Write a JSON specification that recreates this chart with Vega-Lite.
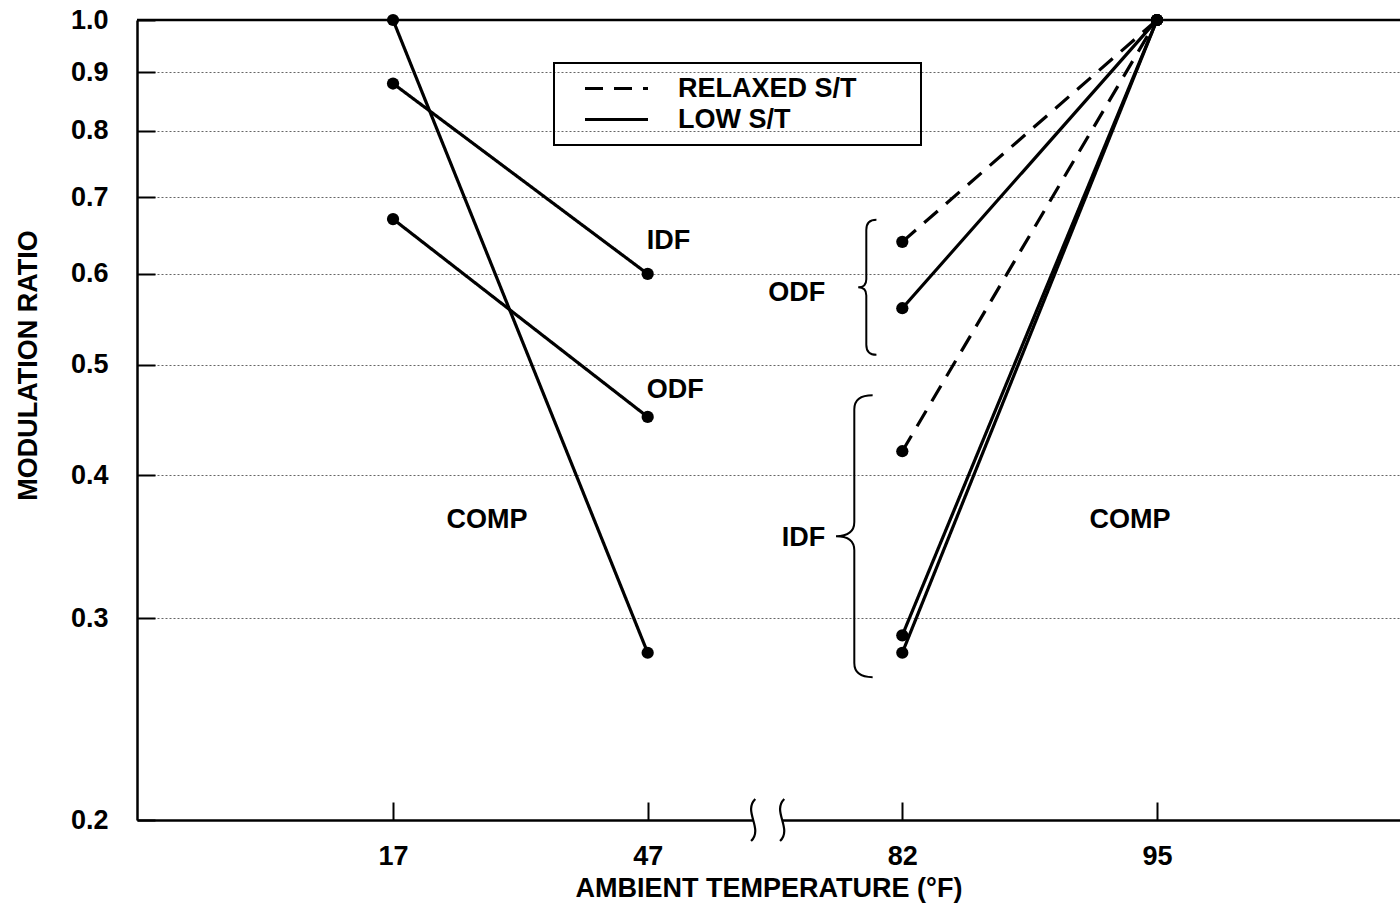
{
  "$schema": "https://vega.github.io/schema/vega-lite/v6.json",
  "autosize": {"type": "none"},
  "width": 1263,
  "height": 800,
  "padding": {"left": 137, "top": 20, "right": 0, "bottom": 89},
  "background": "white",
  "config": {
    "view": {"stroke": null},
    "font": "Liberation Sans",
    "legend": {"strokeWidth": 2},
    "text": {"font": "Liberation Sans", "fontSize": 27, "fontWeight": "bold", "color": "black"}
  },
  "datasets": {
    "lines": [
      {"series": "COMP heating", "st": "HEATING", "temp": "17", "ratio": 1.0},
      {"series": "COMP heating", "st": "HEATING", "temp": "47", "ratio": 0.28},
      {"series": "IDF heating", "st": "HEATING", "temp": "17", "ratio": 0.88},
      {"series": "IDF heating", "st": "HEATING", "temp": "47", "ratio": 0.60},
      {"series": "ODF heating", "st": "HEATING", "temp": "17", "ratio": 0.67},
      {"series": "ODF heating", "st": "HEATING", "temp": "47", "ratio": 0.45},
      {"series": "ODF relaxed", "st": "RELAXED S/T", "temp": "82", "ratio": 0.64},
      {"series": "ODF relaxed", "st": "RELAXED S/T", "temp": "95", "ratio": 1.0},
      {"series": "ODF low", "st": "LOW S/T", "temp": "82", "ratio": 0.56},
      {"series": "ODF low", "st": "LOW S/T", "temp": "95", "ratio": 1.0},
      {"series": "IDF relaxed", "st": "RELAXED S/T", "temp": "82", "ratio": 0.42},
      {"series": "IDF relaxed", "st": "RELAXED S/T", "temp": "95", "ratio": 1.0},
      {"series": "IDF low", "st": "LOW S/T", "temp": "82", "ratio": 0.29},
      {"series": "IDF low", "st": "LOW S/T", "temp": "95", "ratio": 1.0},
      {"series": "COMP cooling", "st": "LOW S/T", "temp": "82", "ratio": 0.28},
      {"series": "COMP cooling", "st": "LOW S/T", "temp": "95", "ratio": 1.0}
    ],
    "notes": [
      {"label": "IDF", "temp": "47", "ratio": 0.641},
      {"label": "ODF", "temp": "47", "ratio": 0.475},
      {"label": "COMP", "temp": "17", "ratio": 0.366},
      {"label": "ODF", "temp": "82", "ratio": 0.577},
      {"label": "IDF", "temp": "82", "ratio": 0.353},
      {"label": "COMP", "temp": "95", "ratio": 0.366}
    ],
    "braces": [
      {"group": "ODF", "temp": "82", "ratio": 0.584},
      {"group": "IDF", "temp": "82", "ratio": 0.354}
    ],
    "marks": [
      {"temp": "47", "ratio": 0.2}
    ]
  },
  "layer": [
    {
      "data": {"name": "lines"},
      "mark": {"type": "line", "color": "black", "strokeWidth": 3.2},
      "encoding": {
        "x": {
          "field": "temp", "type": "ordinal",
          "scale": {"type": "point", "domain": ["17", "47", "82", "95"], "padding": 0.98, "align": 0.513},
          "axis": {
            "title": "AMBIENT TEMPERATURE (°F)",
            "labelAngle": 0,
            "domainColor": "black", "domainWidth": 2.5,
            "tickColor": "black", "tickSize": -18, "tickWidth": 2,
            "labelFont": "Liberation Sans", "labelFontSize": 27, "labelFontWeight": "bold", "labelColor": "black",
            "labelPadding": 41,
            "titleFont": "Liberation Sans", "titleFontSize": 27, "titleFontWeight": "bold", "titleColor": "black",
            "titleY": 68, "titleBaseline": "middle",
            "grid": false
          }
        },
        "y": {
          "field": "ratio", "type": "quantitative",
          "scale": {"type": "log", "domain": [0.2, 1], "nice": false},
          "axis": {
            "title": "MODULATION RATIO",
            "values": [0.2, 0.3, 0.4, 0.5, 0.6, 0.7, 0.8, 0.9, 1.0],
            "format": ".1f",
            "grid": true, "gridColor": "#666", "gridDash": [2, 2], "gridWidth": 1,
            "domainColor": "black", "domainWidth": 2.5,
            "tickColor": "black", "tickSize": -18, "tickWidth": 2,
            "labelFont": "Liberation Sans", "labelFontSize": 27, "labelFontWeight": "bold", "labelColor": "black",
            "labelPadding": 47,
            "titleFont": "Liberation Sans", "titleFontSize": 27, "titleFontWeight": "bold", "titleColor": "black",
            "titleAngle": -90, "titleX": -109, "titleY": 345, "titleAlign": "center", "titleBaseline": "middle"
          }
        },
        "detail": {"field": "series"},
        "strokeDash": {
          "field": "st", "type": "nominal",
          "scale": {"domain": ["RELAXED S/T", "LOW S/T", "HEATING"], "range": [[18, 11], [1, 0], [1, 0]]},
          "legend": {
            "title": " ",
            "titleOrient": "right",
            "titlePadding": 52,
            "titleFontSize": 1,
            "values": ["RELAXED S/T", "LOW S/T"],
            "orient": "none", "legendX": 417, "legendY": 43,
            "strokeColor": "black",
            "padding": 12,
            "symbolType": "M-3,0L3,0",
            "symbolSize": 441,
            "symbolOffset": 37,
            "labelOffset": 48,
            "labelLimit": 600,
            "symbolStrokeWidth": 2.8, "symbolStrokeColor": "black",
            "labelFont": "Liberation Sans", "labelFontSize": 27, "labelFontWeight": "bold", "labelColor": "black",
            "rowPadding": 3
          }
        }
      }
    },
    {
      "data": {"name": "lines"},
      "mark": {"type": "point", "filled": true, "color": "black", "size": 150, "opacity": 1},
      "encoding": {
        "x": {"field": "temp", "type": "ordinal"},
        "y": {"field": "ratio", "type": "quantitative"}
      }
    },
    {
      "data": {"name": "marks"},
      "mark": {"type": "rule", "color": "black", "strokeWidth": 2.5},
      "encoding": {"y": {"datum": 1}}
    },
    {
      "data": {"name": "notes"},
      "transform": [{"filter": "datum.temp == '47'"}],
      "mark": {"type": "text", "align": "left", "baseline": "middle", "dx": -1},
      "encoding": {
        "x": {"field": "temp", "type": "ordinal"},
        "y": {"field": "ratio", "type": "quantitative"},
        "text": {"field": "label"}
      }
    },
    {
      "data": {"name": "notes"},
      "transform": [{"filter": "datum.temp == '17'"}],
      "mark": {"type": "text", "align": "center", "baseline": "middle", "dx": 94},
      "encoding": {
        "x": {"field": "temp", "type": "ordinal"},
        "y": {"field": "ratio", "type": "quantitative"},
        "text": {"field": "label"}
      }
    },
    {
      "data": {"name": "notes"},
      "transform": [{"filter": "datum.temp == '82'"}],
      "mark": {"type": "text", "align": "right", "baseline": "middle", "dx": -77},
      "encoding": {
        "x": {"field": "temp", "type": "ordinal"},
        "y": {"field": "ratio", "type": "quantitative"},
        "text": {"field": "label"}
      }
    },
    {
      "data": {"name": "notes"},
      "transform": [{"filter": "datum.temp == '95'"}],
      "mark": {"type": "text", "align": "center", "baseline": "middle", "dx": -27},
      "encoding": {
        "x": {"field": "temp", "type": "ordinal"},
        "y": {"field": "ratio", "type": "quantitative"},
        "text": {"field": "label"}
      }
    },
    {
      "data": {"name": "braces"},
      "transform": [{"filter": "datum.group == 'ODF'"}],
      "mark": {"type": "point", "filled": false, "color": "black", "strokeWidth": 2, "opacity": 1,
               "shape": "M0.15,-1Q0,-1 0,-0.85L0,-0.12Q0,0 -0.12,0Q0,0 0,0.12L0,0.85Q0,1 0.15,1",
               "size": 18225, "xOffset": -36},
      "encoding": {
        "x": {"field": "temp", "type": "ordinal"},
        "y": {"field": "ratio", "type": "quantitative"}
      }
    },
    {
      "data": {"name": "braces"},
      "transform": [{"filter": "datum.group == 'IDF'"}],
      "mark": {"type": "point", "filled": false, "color": "black", "strokeWidth": 2, "opacity": 1,
               "shape": "M0.13,-1Q0,-1 0,-0.9L0,-0.1Q0,0 -0.13,0Q0,0 0,0.1L0,0.9Q0,1 0.13,1",
               "size": 79524, "xOffset": -48},
      "encoding": {
        "x": {"field": "temp", "type": "ordinal"},
        "y": {"field": "ratio", "type": "quantitative"}
      }
    },
    {
      "data": {"name": "marks"},
      "mark": {"type": "point", "filled": true, "color": "white", "opacity": 1, "strokeWidth": 0,
               "shape": "M-0.69,-0.2L0.69,-0.2L0.69,0.2L-0.69,0.2Z", "size": 1764, "xOffset": 120},
      "encoding": {"x": {"field": "temp", "type": "ordinal"}, "y": {"field": "ratio", "type": "quantitative"}}
    },
    {
      "data": {"name": "marks"},
      "mark": {"type": "point", "filled": false, "color": "black", "opacity": 1, "strokeWidth": 2.2,
               "shape": "M-0.59,-1C-1.19,-0.4 -0.19,0.4 -0.79,1M0.79,-1C0.19,-0.4 1.19,0.4 0.59,1", "size": 1764, "xOffset": 120},
      "encoding": {"x": {"field": "temp", "type": "ordinal"}, "y": {"field": "ratio", "type": "quantitative"}}
    }
  ]
}
